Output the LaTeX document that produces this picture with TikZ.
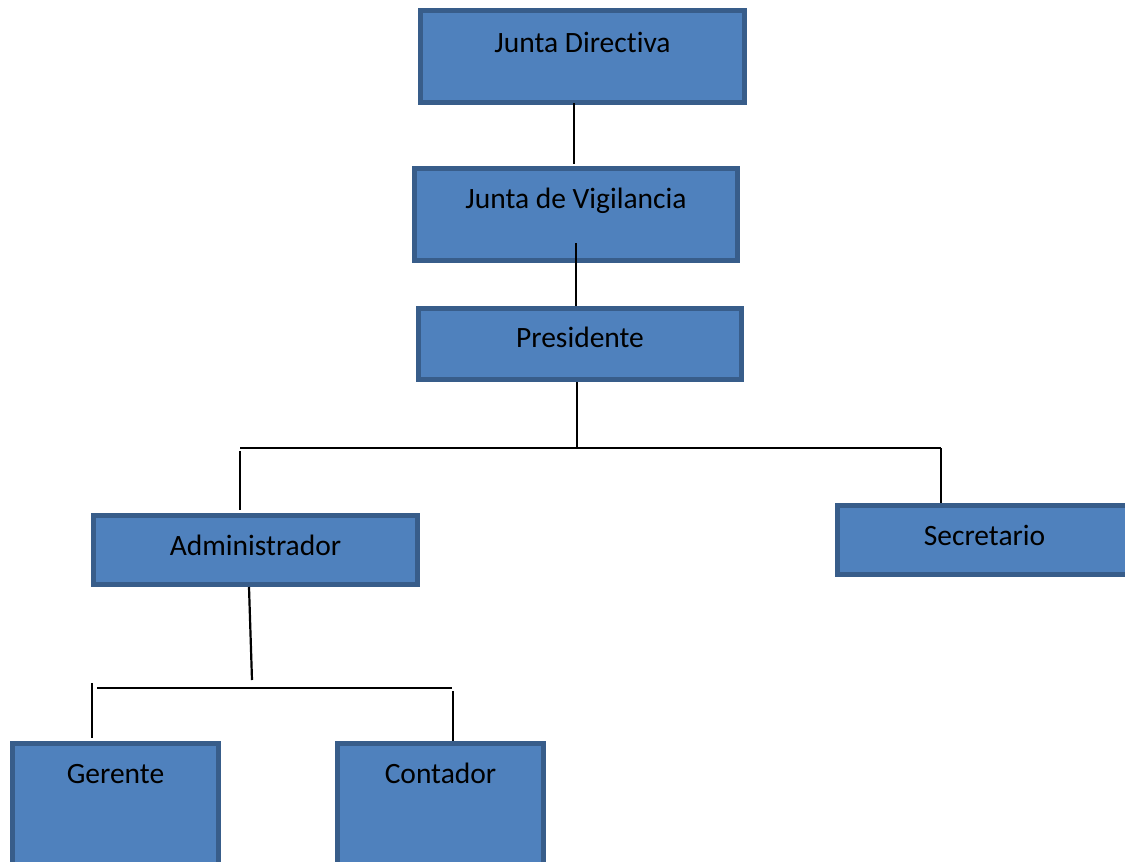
\documentclass[tikz,border=0pt]{standalone}
\usepackage{fontspec}
\setmainfont{Carlito}[RawFeature={-liga;-calt;-dlig}]
\usepackage{xcolor}
\usepackage{tikz}
\usetikzlibrary{positioning,calc}
\definecolor{relleno}{HTML}{4F81BD}
\definecolor{borde}{HTML}{385D8A}

\begin{document}
\begin{tikzpicture}[
  x=1pt, y=-1pt,
  font=\fontsize{29.5}{35}\selectfont,
  cargo/.style={draw=borde, fill=relleno, line width=5pt, inner sep=0pt, anchor=north west},
  linea/.style={line width=2.2pt, black}
]
\clip (0,0) rectangle (1125,862);
\node[cargo, minimum width=324pt, text height=41.5pt, text depth=50.5pt] (jd) at (418,8) {Junta Directiva};
\node[cargo, minimum width=323pt, text height=39.5pt, text depth=52.5pt] (jv) at (412,166) {Junta de Vigilancia};
\node[cargo, minimum width=323pt, text height=38.5pt, text depth=32.5pt] (pres) at (416,306) {Presidente};
\node[cargo, minimum width=324pt, text height=39.5pt, text depth=29.5pt] (adm) at (91,513) {Administrador};
\node[cargo, minimum width=294pt, text height=39.5pt, text depth=29.5pt] (sec) at (835,503) {Secretario};
\node[cargo, minimum width=206pt, text height=39.5pt, text depth=90pt] (ger) at (10,741) {Gerente};
\node[cargo, minimum width=206pt, text height=39.5pt, text depth=90pt] (con) at (335,741) {Contador};
\coordinate (bus1) at (577,448);
\coordinate (izq) at (240,448);
\coordinate (der) at (941,448);
\coordinate (bus2) at (252,680);
\coordinate (izq2) at (97,688);
\coordinate (der2) at (452,688);
\coordinate (g1) at (92,683);
\coordinate (c1) at (453,691);
\draw[linea, shorten <=-2pt, shorten >=2pt] ([xshift=-8.5pt]jd.south) -- ([xshift=-8.5pt]jd.south |- jv.north);
\draw[linea] ([yshift=20pt]jv.south) -- (jv.south |- pres.north);
\draw[linea] ([xshift=-3pt]pres.south) -- (bus1);
\draw[linea] (izq) -- (der);
\draw[linea, shorten >=3pt] ([yshift=-3pt]izq) -- (izq |- adm.north);
\draw[linea] (der) -- (der |- sec.north);
\draw[linea] ([xshift=-6.5pt]adm.south) -- (bus2);
\draw[linea] (izq2) -- (der2);
\draw[linea, shorten >=3pt] (g1) -- (g1 |- ger.north);
\draw[linea] (c1) -- (c1 |- con.north);
\end{tikzpicture}
\end{document}
